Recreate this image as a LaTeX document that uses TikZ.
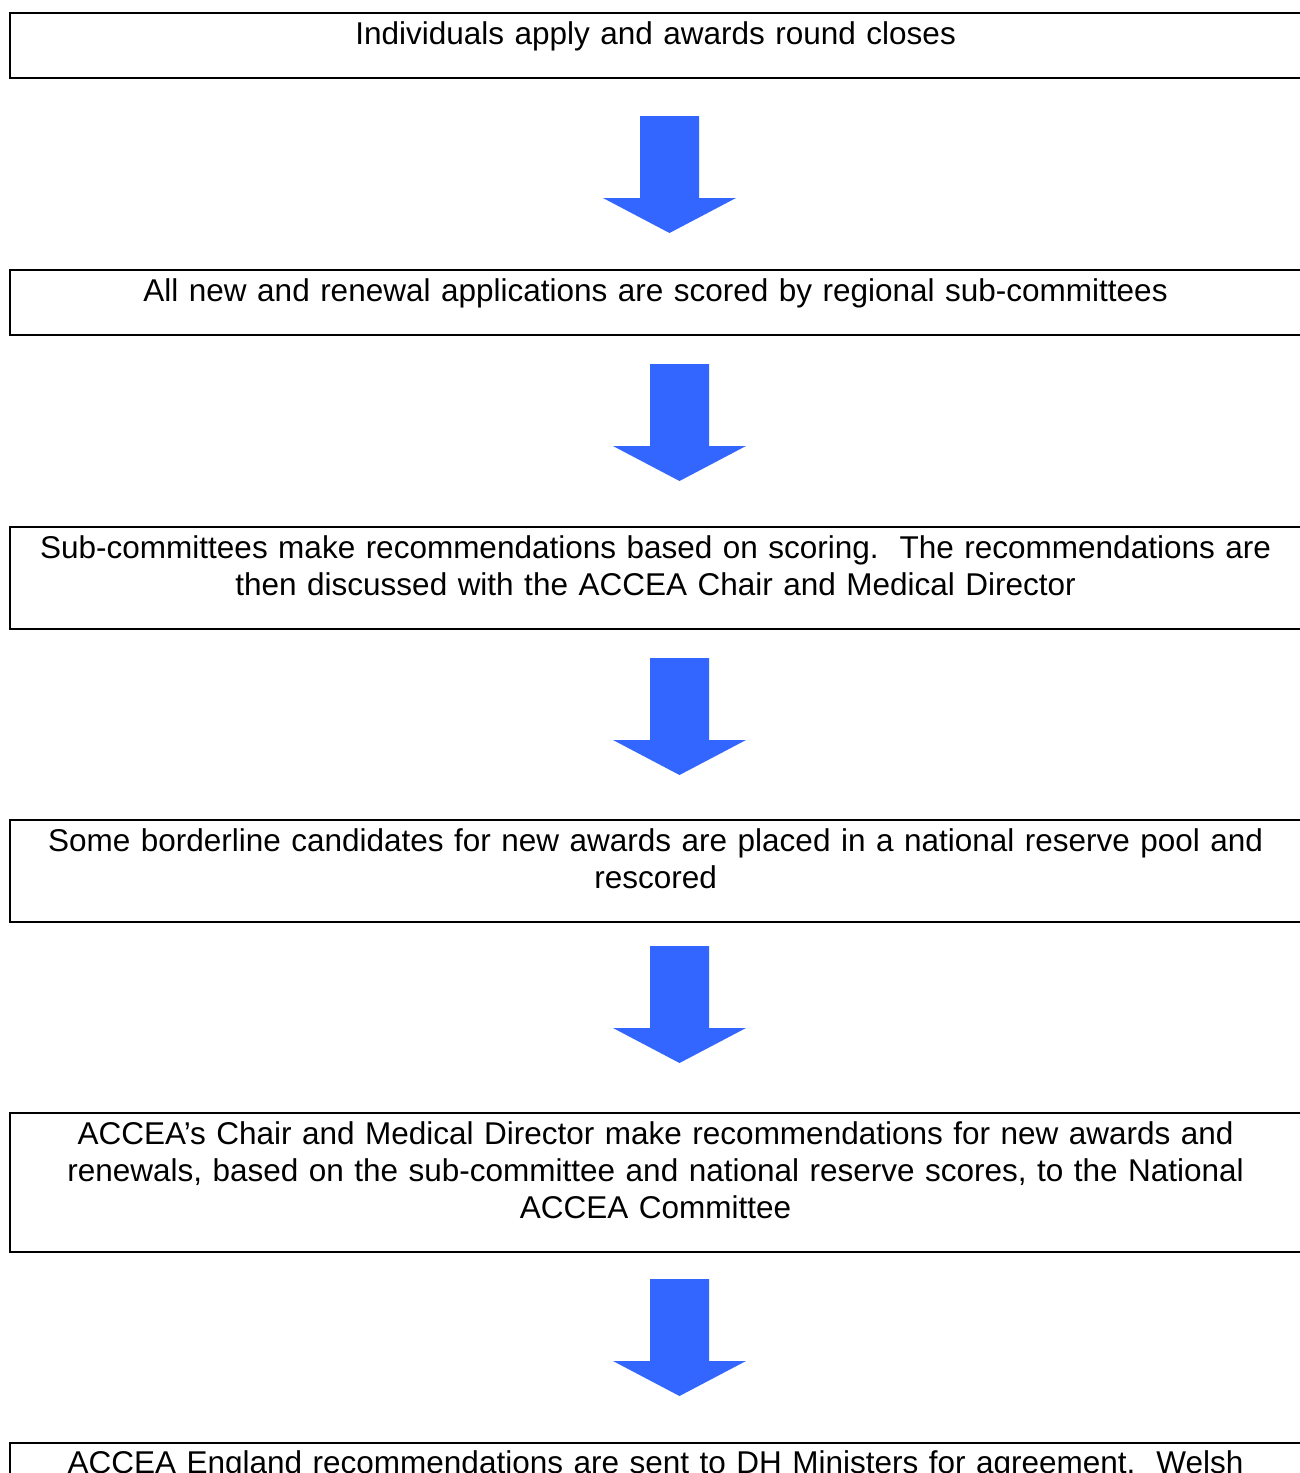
\documentclass[tikz,border=0pt]{standalone}
\usepackage{fontspec}
\setmainfont{Liberation Sans}
\definecolor{arrowblue}{HTML}{3366FF}
\newcommand{\tstrut}{\rule{0pt}{31pt}}
\newcommand{\bstrut}{\rule[-34pt]{0pt}{34pt}}
\newcommand{\bothstrut}{\rule[-34pt]{0pt}{65pt}}
% block arrow: #1 = centre x, #2 = top y
\newcommand{\flowarrow}[2]{%
  \fill[arrowblue] (#1-29.5,#2) -- (#1+29.5,#2) -- (#1+29.5,#2+82) -- (#1+66.5,#2+82)
    -- (#1,#2+117) -- (#1-66.5,#2+82) -- (#1-29.5,#2+82) -- cycle;}
\begin{document}
\begin{tikzpicture}[x=1pt,y=-1pt,
  stagebox/.style={draw=black, line width=2.2pt, anchor=north west, inner xsep=5pt, inner ysep=0pt,
    text width=1281pt, align=center, font=\fontsize{31.5}{37}\selectfont}]
\useasboundingbox[fill=white] (0,0) rectangle (1299,1473);
\node[stagebox] (s1) at (9,12) {\bothstrut Individuals apply and awards round closes};
\node[stagebox] (s2) at (9,269) {\bothstrut All new and renewal applications are scored by regional sub-committees};
\node[stagebox] (s3) at (9,526) {\tstrut Sub-committees make recommendations based on scoring.\ \ The recommendations are\\
  then discussed with the ACCEA Chair and Medical Director\bstrut};
\node[stagebox] (s4) at (9,819) {\tstrut Some borderline candidates for new awards are placed in a national reserve pool and\\
  rescored\bstrut};
\node[stagebox] (s5) at (9,1112) {\tstrut ACCEA’s Chair and Medical Director make recommendations for new awards and\\
  renewals, based on the sub-committee and national reserve scores, to the National\\
  ACCEA Committee\bstrut};
\node[stagebox] (s6) at (9,1442) {\rule{0pt}{30pt}ACCEA England recommendations are sent to DH Ministers for agreement.\ \ Welsh\rule[-90pt]{0pt}{90pt}};
\flowarrow{669.5}{116}
\flowarrow{679.5}{364}
\flowarrow{679.5}{658}
\flowarrow{679.5}{946}
\flowarrow{679.5}{1279}
\end{tikzpicture}
\end{document}
